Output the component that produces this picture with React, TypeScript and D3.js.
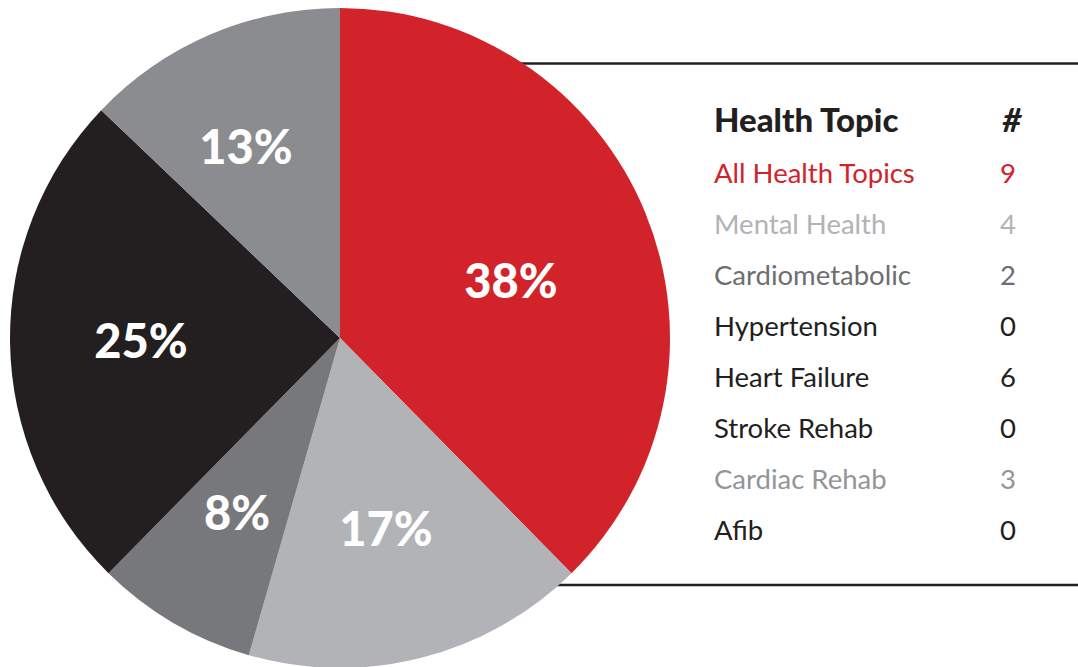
import React from "react";
import * as d3 from "d3";

const topics = [
  "All Health Topics",
  "Mental Health",
  "Cardiometabolic",
  "Hypertension",
  "Heart Failure",
  "Stroke Rehab",
  "Cardiac Rehab",
  "Afib",
];
const counts = [9, 4, 2, 0, 6, 0, 3, 0];
const sliceColors = ["#d2232a", "#b1b3b6", "#77787b", "#231f20", "#231f20", "#231f20", "#8b8c90", "#231f20"];
const textColors = ["#d2232a", "#b1b3b6", "#6d6e71", "#231f20", "#231f20", "#231f20", "#939598", "#231f20"];
// label offsets from pie centre (styling, per topic)
const labelOffsets: Record<string, [number, number]> = {
  "All Health Topics": [171, -58],
  "Mental Health": [46, 190],
  Cardiometabolic: [-103, 174],
  "Heart Failure": [-199, 2],
  "Cardiac Rehab": [-94, -192],
};

const W = 1078;
const H = 667;
const cx = 340;
const cy = 338;
const R = 330;

export default function App() {
  const total = d3.sum(counts);
  const data = topics
    .map((t, i) => ({ topic: t, value: counts[i], pct: Math.round((counts[i] / total) * 100), i }))
    .filter((d) => d.value > 0);
  // slices are sized by the rounded percentages shown on them
  const pie = d3.pie<any>().sort(null).value((d) => d.pct);
  const arcs = pie(data);
  const arcGen = d3.arc<any>().innerRadius(0).outerRadius(R);

  const rowY = d3.scaleLinear().domain([0, topics.length - 1]).range([183, 540]);
  const labelX = 714;
  const numX = 1008;
  const font = "Lato, 'Open Sans', sans-serif";

  return (
    <svg width={W} height={H} style={{ position: "absolute", left: 0, top: 0 }} xmlns="http://www.w3.org/2000/svg">
      <rect width={W} height={H} fill="#ffffff" />
      <line x1={cx} x2={W} y1={63.5} y2={63.5} stroke="#231f20" strokeWidth={2.5} />
      <line x1={cx} x2={W} y1={585} y2={585} stroke="#231f20" strokeWidth={2.5} />
      <g transform={`translate(${cx},${cy})`}>
        {arcs.map((a) => (
          <path key={a.data.topic} d={arcGen(a) as string} fill={sliceColors[a.data.i]} />
        ))}
        {arcs.map((a) => {
          const off = labelOffsets[a.data.topic] || arcGen.centroid(a);
          return (
            <text
              key={"l" + a.data.topic}
              x={off[0]}
              y={off[1]}
              textAnchor="middle"
              dominantBaseline="central"
              fill="#ffffff"
              fontFamily={font}
              fontWeight={900}
              fontSize={47}
            >
              {a.data.pct}%
            </text>
          );
        })}
      </g>
      <text x={labelX} y={132} fontFamily={font} fontWeight={900} fontSize={33} fill="#231f20">
        Health Topic
      </text>
      <text x={numX + 4} y={132} textAnchor="middle" fontFamily={font} fontWeight={900} fontStyle="italic" fontSize={33} fill="#231f20">
        #
      </text>
      {topics.map((t, i) => (
        <g key={t}>
          <text x={labelX} y={rowY(i)} fontFamily={font} fontSize={27.5} fill={textColors[i]}>
            {t}
          </text>
          <text x={numX} y={rowY(i)} textAnchor="middle" fontFamily={font} fontSize={27.5} fill={textColors[i]}>
            {counts[i]}
          </text>
        </g>
      ))}
    </svg>
  );
}
